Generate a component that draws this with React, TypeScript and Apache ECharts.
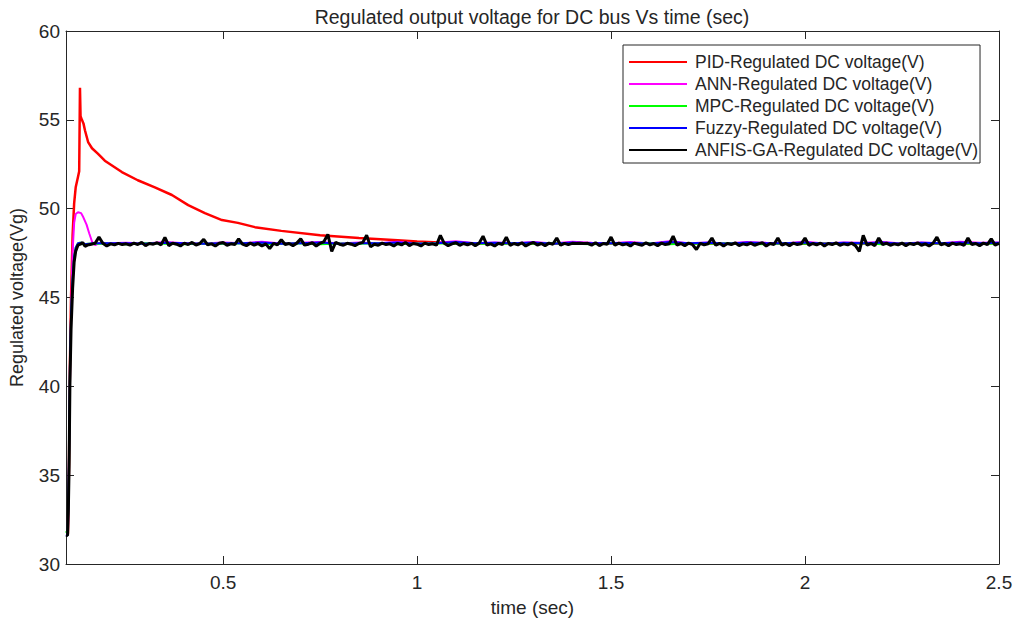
import React, { useEffect, useRef } from "react";
import * as echarts from "echarts";

const TITLE = "Regulated output voltage for DC bus Vs time (sec)";
const X_NAME = "time (sec)";
const Y_NAME = "Regulated voltage(Vg)";
const X_MIN = 0.095;
const X_MAX = 2.5;
const xTicks = [0.5, 1, 1.5, 2, 2.5];
const Y_MIN = 30;
const Y_MAX = 60;
const Y_STEP = 5;

const seriesNames = [
  "PID-Regulated DC voltage(V)",
  "ANN-Regulated DC voltage(V)",
  "MPC-Regulated DC voltage(V)",
  "Fuzzy-Regulated DC voltage(V)",
  "ANFIS-GA-Regulated DC voltage(V)",
];
const seriesColors = ["#ff0000", "#ff00ff", "#00ff00", "#0000ff", "#000000"];

// PID (red)
const pidTime = [0.095, 0.1, 0.103, 0.105, 0.108, 0.112, 0.116, 0.12, 0.126, 0.129, 0.131, 0.1325, 0.136, 0.14, 0.144, 0.152, 0.162, 0.177, 0.195, 0.239, 0.28, 0.324, 0.368, 0.41, 0.453, 0.497, 0.538, 0.582, 0.65, 0.75, 0.85, 0.95, 1.0, 1.1, 1.2, 1.3, 1.4, 1.5, 1.6, 1.7, 1.8, 1.9, 2.0, 2.1, 2.2, 2.3, 2.4, 2.5];
const pidVolt = [31.7, 31.7, 36, 41, 45, 48.5, 50.3, 51.2, 51.8, 52.1, 56.8, 55.2, 55.0, 54.8, 54.4, 53.75, 53.4, 53.1, 52.7, 52.06, 51.6, 51.2, 50.77, 50.2, 49.75, 49.36, 49.2, 48.96, 48.75, 48.5, 48.35, 48.22, 48.15, 48.06, 48.04, 48.06, 48.03, 48.06, 48.03, 48.05, 48.03, 48.06, 48.03, 48.05, 48.03, 48.06, 48.03, 48.05];

// ANN (magenta)
const annTime = [0.095, 0.1, 0.102, 0.104, 0.106, 0.109, 0.112, 0.116, 0.12, 0.126, 0.134, 0.14, 0.148, 0.155, 0.162, 0.17, 0.18, 0.19];
const annVolt = [31.7, 31.7, 34, 38, 41.5, 45, 47.6, 49.2, 49.7, 49.8, 49.75, 49.5, 49.1, 48.6, 48.15, 47.95, 48.05, 48.08];
const annSteadyStart = 0.2;
const annSteadyStep = 0.05;
const annSteady = [
  48.06, 48.08, 48.04, 48.12, 48.06, 48.04, 48.1, 48.06, 48.14, 48.04,
  48.08, 48.12, 48.04, 48.1, 48.06, 48.14, 48.04, 48.08, 48.16, 48.06,
  48.1, 48.06, 48.12, 48.04, 48.14, 48.08, 48.06, 48.12, 48.04, 48.16,
  48.06, 48.1, 48.04, 48.12, 48.08, 48.06, 48.14, 48.04, 48.1, 48.08,
  48.12, 48.04, 48.1, 48.06, 48.14, 48.08, 48.1,
];

// MPC (green)
const mpcTime = [0.095, 0.099, 0.101, 0.103, 0.105, 0.108, 0.112, 0.116, 0.12, 0.126, 0.132, 0.138, 0.144];
const mpcVolt = [31.85, 31.7, 33.2, 35.8, 40.5, 43.8, 46.0, 47.3, 47.8, 48.05, 48.1, 48.0, 48.0];
const mpcSteadyStart = 0.15;
const mpcSteadyStep = 0.05;
const mpcSteady = [
  48.02, 48.04, 48.0, 48.05, 48.02, 48.0, 48.04, 48.02, 48.05, 48.0,
  48.02, 48.05, 48.0, 48.04, 48.02, 48.06, 48.0, 48.04, 48.05, 48.02,
  48.04, 48.0, 48.05, 48.02, 48.06, 48.02, 48.0, 48.05, 48.02, 48.06,
  48.0, 48.04, 48.02, 48.05, 48.02, 48.0, 48.06, 48.02, 48.04, 48.02,
  48.05, 48.0, 48.04, 48.02, 48.06, 48.02, 48.04, 48.02,
];

// Fuzzy (blue)
const fuzzyTime = [0.095, 0.099, 0.101, 0.103, 0.105, 0.108, 0.112, 0.116, 0.12, 0.126, 0.135, 0.145, 0.16, 0.175, 0.19];
const fuzzyVolt = [31.65, 31.6, 33.5, 36.5, 41, 44, 46, 47.3, 47.8, 48.05, 48.08, 48.0, 48.04, 48.06, 48.05];
const fuzzySteadyStart = 0.2;
const fuzzySteadyStep = 0.05;
const fuzzySteady = [
  48.05, 48.06, 48.03, 48.08, 48.05, 48.02, 48.06, 48.05, 48.1, 48.03,
  48.06, 48.09, 48.03, 48.06, 48.05, 48.1, 48.03, 48.06, 48.12, 48.05,
  48.08, 48.05, 48.09, 48.03, 48.1, 48.06, 48.05, 48.08, 48.03, 48.12,
  48.05, 48.08, 48.03, 48.09, 48.06, 48.05, 48.1, 48.03, 48.08, 48.06,
  48.09, 48.03, 48.08, 48.05, 48.1, 48.06, 48.08,
];

// ANFIS-GA (black)
const anfisTime = [0.095, 0.099, 0.101, 0.103, 0.105, 0.108, 0.112, 0.116, 0.12, 0.126, 0.132, 0.138, 0.144];
const anfisVolt = [31.62, 31.6, 33.0, 35.5, 40.0, 43.2, 45.5, 47.0, 47.6, 47.95, 48.0, 48.1, 47.88];
const anfisSteadyStart = 0.15;
const anfisSteadyStep = 0.01;
const anfisSteady = [
  47.95, 48.0, 48.05, 48.4, 48.05, 47.9, 48.02, 47.96, 48.05, 47.98,
  48.02, 47.95, 48.06, 47.98, 48.1, 47.92, 48.04, 48.0, 48.08, 47.96,
  48.38, 47.92, 48.05, 48.0, 47.9, 48.06, 47.98, 48.1, 47.95, 48.04,
  48.28, 47.96, 48.02, 47.9, 48.05, 48.1, 47.94, 48.02, 47.98, 48.3,
  48.0, 47.92, 48.06, 47.95, 48.04, 47.9, 48.02, 47.75, 48.05, 47.96,
  48.25, 47.98, 48.04, 47.92, 48.06, 48.3, 47.95, 48.0, 48.08, 47.9,
  48.05, 48.15, 48.55, 47.6, 48.1, 48.0, 47.94, 48.05, 48.0, 47.92,
  48.04, 48.1, 48.5, 47.85, 48.0, 47.94, 48.06, 47.98, 48.02, 47.9,
  48.05, 47.96, 48.1, 47.92, 48.04, 48.0, 47.9, 48.06, 47.98, 48.02,
  47.95, 48.5, 48.05, 47.92, 48.02, 48.08, 47.94, 48.04, 47.96, 48.05,
  47.92, 48.06, 48.45, 47.95, 48.02, 47.9, 48.05, 47.98, 48.4, 47.94,
  48.04, 47.96, 48.08, 47.9, 48.02, 48.1, 47.95, 48.04, 47.92, 48.06,
  48.0, 48.35, 47.94, 48.05, 47.98, 48.05, 48.04, 48.05, 48.04, 48.05,
  47.95, 48.08, 47.92, 48.04, 48.0, 48.4, 47.94, 48.06, 47.96, 48.02,
  47.9, 48.06, 48.0, 47.94, 48.08, 47.96, 48.04, 47.92, 48.06, 47.98,
  48.02, 48.45, 47.95, 48.04, 47.92, 48.06, 47.98, 47.7, 48.05, 47.96,
  48.02, 48.35, 47.94, 48.05, 47.9, 48.04, 47.98, 48.08, 47.92, 48.02,
  47.96, 48.06, 47.94, 48.02, 48.08, 47.9, 48.04, 47.98, 48.35, 47.95,
  48.04, 47.92, 48.06, 47.98, 48.02, 48.35, 47.94, 48.04, 47.96, 48.06,
  47.9, 48.04, 47.98, 48.08, 47.94, 48.02, 47.96, 48.06, 47.92, 47.6,
  48.5, 47.95, 48.04, 47.92, 48.35, 47.98, 48.06, 47.94, 48.02, 47.96,
  48.06, 47.92, 48.04, 47.98, 48.08, 47.94, 48.02, 47.9, 48.05, 48.4,
  47.96, 48.04, 47.92, 48.06, 47.98, 48.02, 47.94, 48.35, 47.98, 48.04,
  47.92, 48.06, 47.98, 48.3, 47.95, 48.05,
];

function pairs(times: number[], volts: number[]): number[][] {
  return times.map((t, i) => [t, volts[i]]);
}
function sampled(start: number, step: number, volts: number[]): number[][] {
  return volts.map((v, i) => [Math.round((start + i * step) * 10000) / 10000, v]);
}

const seriesData = [
  pairs(pidTime, pidVolt),
  pairs(annTime, annVolt).concat(sampled(annSteadyStart, annSteadyStep, annSteady)),
  pairs(mpcTime, mpcVolt).concat(sampled(mpcSteadyStart, mpcSteadyStep, mpcSteady)),
  pairs(fuzzyTime, fuzzyVolt).concat(sampled(fuzzySteadyStart, fuzzySteadyStep, fuzzySteady)),
  pairs(anfisTime, anfisVolt).concat(sampled(anfisSteadyStart, anfisSteadyStep, anfisSteady)),
];
const seriesWidths = [2.5, 2, 2, 2, 3];

const FONT = "'Liberation Sans', Arial, Helvetica, sans-serif";
const INK = "#262626";

export default function App() {
  const ref = useRef<HTMLDivElement>(null);
  useEffect(() => {
    if (!ref.current) return;
    const chart = echarts.init(ref.current, null, { renderer: "svg" });
    const axisLine = { show: true, lineStyle: { color: INK, width: 1 } };
    const tickStyle = { color: INK, width: 1 };
    chart.setOption({
      animation: false,
      backgroundColor: "#ffffff",
      textStyle: { fontFamily: FONT },
      grid: { left: 66, right: 20, top: 31, bottom: 58, containLabel: false, outerBoundsMode: "none" },
      graphic: [
        {
          type: "text",
          x: 532,
          y: 17,
          style: {
            text: TITLE,
            textAlign: "center",
            textVerticalAlign: "middle",
            fontSize: 19.5,
            fontFamily: FONT,
            fill: INK,
          },
        },
      ],
      legend: {
        orient: "vertical",
        left: 623,
        top: 45,
        icon: "rect",
        itemWidth: 58,
        itemHeight: 2,
        itemGap: 2,
        padding: [7, 2, 3, 6],
        borderColor: INK,
        borderWidth: 1,
        backgroundColor: "#ffffff",
        textStyle: { fontSize: 17.5, lineHeight: 20, fontFamily: FONT, color: INK, padding: [0, 0, 0, 3] },
        data: seriesNames,
      },
      xAxis: [
        {
          type: "value",
          min: X_MIN,
          max: X_MAX,
          position: "bottom",
          name: X_NAME,
          nameLocation: "middle",
          nameGap: 34,
          nameTextStyle: { fontSize: 19, color: INK, fontFamily: FONT },
          axisLine,
          axisTick: { show: true, inside: true, length: 8, customValues: xTicks, lineStyle: tickStyle },
          axisLabel: { show: true, customValues: xTicks, fontSize: 19, color: INK, margin: 9, fontFamily: FONT },
          splitLine: { show: false },
        },
        {
          type: "value",
          min: X_MIN,
          max: X_MAX,
          position: "top",
          axisLine,
          axisTick: { show: true, inside: true, length: 8, customValues: xTicks, lineStyle: tickStyle },
          axisLabel: { show: false },
          splitLine: { show: false },
        },
      ],
      yAxis: [
        {
          type: "value",
          min: Y_MIN,
          max: Y_MAX,
          interval: Y_STEP,
          position: "left",
          name: Y_NAME,
          nameLocation: "middle",
          nameGap: 40,
          nameTextStyle: { fontSize: 18, color: INK, fontFamily: FONT },
          axisLine,
          axisTick: { show: true, inside: true, length: 8, lineStyle: tickStyle },
          axisLabel: { show: true, fontSize: 19, color: INK, margin: 6, fontFamily: FONT },
          splitLine: { show: false },
        },
        {
          type: "value",
          min: Y_MIN,
          max: Y_MAX,
          interval: Y_STEP,
          position: "right",
          axisLine,
          axisTick: { show: true, inside: true, length: 8, lineStyle: tickStyle },
          axisLabel: { show: false },
          splitLine: { show: false },
        },
      ],
      series: seriesNames.map((name, i) => ({
        name,
        type: "line",
        xAxisIndex: 0,
        yAxisIndex: 0,
        data: seriesData[i],
        symbol: "none",
        showSymbol: false,
        smooth: false,
        clip: true,
        color: seriesColors[i],
        lineStyle: { color: seriesColors[i], width: seriesWidths[i] },
        itemStyle: { color: seriesColors[i] },
        emphasis: { disabled: true },
      })),
    });
    return () => chart.dispose();
  }, []);
  return (
    <div
      ref={ref}
      style={{ position: "fixed", left: 0, top: 0, width: 1019, height: 622, background: "#ffffff" }}
    />
  );
}
